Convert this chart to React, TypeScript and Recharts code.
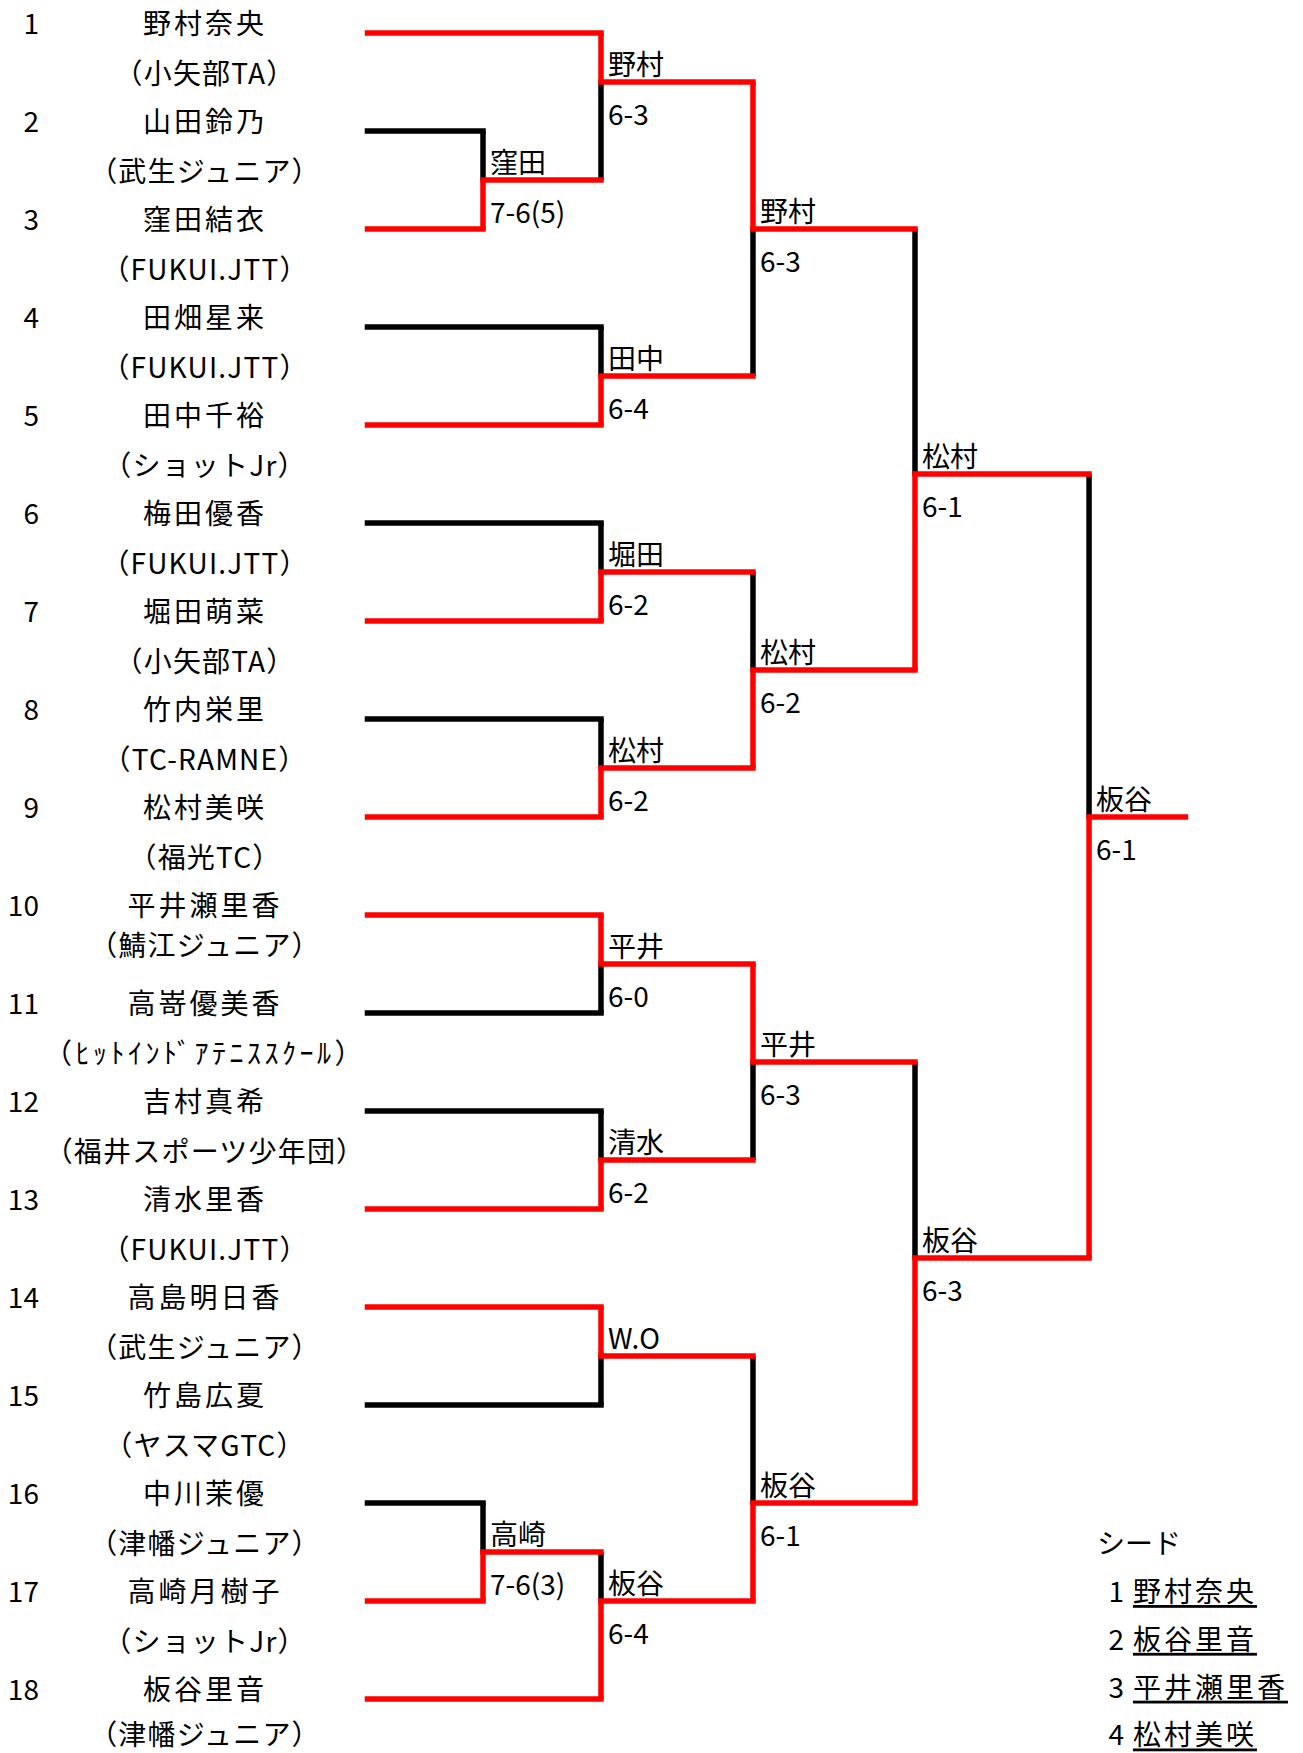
import React from 'react';
import { ScatterChart, Scatter, XAxis, YAxis, ReferenceLine } from 'recharts';

// ---------------- data ----------------
const playerNos = ['1', '2', '3', '4', '5', '6', '7', '8', '9', '10', '11', '12', '13', '14', '15', '16', '17', '18'];
const playerNames = [
  '野村奈央', '山田鈴乃', '窪田結衣', '田畑星来', '田中千裕', '梅田優香', '堀田萌菜', '竹内栄里', '松村美咲',
  '平井瀬里香', '高嵜優美香', '吉村真希', '清水里香', '高島明日香', '竹島広夏', '中川茉優', '高崎月樹子', '板谷里音',
];
const playerClubs = [
  '（小矢部TA）', '（武生ジュニア）', '（FUKUI.JTT）', '（FUKUI.JTT）', '（ショットJr）', '（FUKUI.JTT）',
  '（小矢部TA）', '（TC-RAMNE）', '（福光TC）', '（鯖江ジュニア）', '（ﾋｯﾄｲﾝﾄﾞｱﾃﾆｽｽｸｰﾙ）', '（福井スポーツ少年団）',
  '（FUKUI.JTT）', '（武生ジュニア）', '（ヤスマGTC）', '（津幡ジュニア）', '（ショットJr）', '（津幡ジュニア）',
];

// bracket structure: round of each match, entrant slots, winner slot
const matchRounds = [1, 1, 2, 2, 2, 2, 2, 2, 2, 2, 3, 3, 3, 3, 4, 4, 5];
const matchTopSlots = [2, 16, 1, 4, 6, 8, 10, 12, 14, 16.5, 1.5, 6.5, 10.5, 14.5, 3, 11.5, 5.5];
const matchBottomSlots = [3, 17, 2.5, 5, 7, 9, 11, 13, 15, 18, 4.5, 8.5, 12.5, 17, 7.5, 16, 13.5];
const matchOutSlots = [2.5, 16.5, 1.5, 4.5, 6.5, 8.5, 10.5, 12.5, 14.5, 17, 3, 7.5, 11.5, 16, 5.5, 13.5, 9];
const matchTopWins = [false, false, true, false, false, false, true, false, true, false, true, false, true, false, false, false, false];
const matchWinners = ['窪田', '高崎', '野村', '田中', '堀田', '松村', '平井', '清水', 'W.O', '板谷', '野村', '松村', '平井', '板谷', '松村', '板谷', '板谷'];
const matchScores = ['7-6(5)', '7-6(3)', '6-3', '6-4', '6-2', '6-2', '6-0', '6-2', '', '6-4', '6-3', '6-2', '6-3', '6-1', '6-1', '6-3', '6-1'];

const seedTitle = 'シード';
const seedRanks = ['1', '2', '3', '4'];
const seedNames = ['野村奈央', '板谷里音', '平井瀬里香', '松村美咲'];

// ---------------- layout ----------------
const W = 1303;
const H = 1753;
const RED = '#FF0000';
const BLACK = '#000000';
const LINE_W = 5.5;
const FONT = '"Noto Sans CJK JP", "Noto Sans CJK SC", sans-serif';
const FONT_SIZE = 28;

// column positions in grid units (round columns)
const COLS = [0.021, 1, 2, 3.288, 4.661, 6.136, 6.953];
const X_DOMAIN: [number, number] = [-3.0932, 7.9492];
const Y_DOMAIN: [number, number] = [0.6633, 18.551];

const NO_X = -2.763;
const NAME_X = -1.356;
const NAME_DY = -0.112;
const CLUB_DY = 0.393;
const CLUB_DY_TIGHT = 0.3; // the 鯖江ジュニア row sits closer
const CLUB_DY_LAST = 0.35; // keep the bottom row inside the page
const LABEL_DX = 0.059;
const WIN_DY = -0.194;
const SCORE_DY = 0.316;
const SEED_TITLE_X = 6.203;
const SEED_NO_X = 6.432;
const SEED_NAME_X = 6.508;
const SEED_Y0 = 16.4;
const SEED_STEP = 0.488;

type Seg = { x1: number; y1: number; x2: number; y2: number; color: string; vertical: boolean };

const segments: Seg[] = [];

// player entry lines
playerNos.forEach((_, i) => {
  const slot = i + 1;
  let best = -1;
  matchRounds.forEach((r, m) => {
    if (matchTopSlots[m] === slot || matchBottomSlots[m] === slot) {
      if (best < 0 || r < matchRounds[best]) best = m;
    }
  });
  if (best < 0) return;
  const isTop = matchTopSlots[best] === slot;
  const won = isTop ? matchTopWins[best] : !matchTopWins[best];
  segments.push({ x1: COLS[0], y1: slot, x2: COLS[matchRounds[best]], y2: slot, color: won ? RED : BLACK, vertical: false });
});

// match verticals and winner lines
matchRounds.forEach((r, m) => {
  const cx = COLS[r];
  const topWin = matchTopWins[m];
  segments.push({ x1: cx, y1: matchTopSlots[m], x2: cx, y2: matchOutSlots[m], color: topWin ? RED : BLACK, vertical: true });
  segments.push({ x1: cx, y1: matchOutSlots[m], x2: cx, y2: matchBottomSlots[m], color: topWin ? BLACK : RED, vertical: true });
  segments.push({ x1: cx, y1: matchOutSlots[m], x2: COLS[r + 1], y2: matchOutSlots[m], color: RED, vertical: false });
});

const order = (s: Seg) => (s.vertical ? 0 : 2) + (s.color === RED ? 1 : 0);
const sortedSegments = [...segments].sort((a, b) => order(a) - order(b));

type T = { x: number; y: number; text: string; anchor: string; ls?: number; ul?: boolean };

const texts: T[] = [];
playerNos.forEach((no, i) => {
  const slot = i + 1;
  texts.push({ x: NO_X, y: slot + NAME_DY, text: no, anchor: 'end' });
  texts.push({ x: NAME_X, y: slot + NAME_DY, text: playerNames[i], anchor: 'middle', ls: 3 });
  const dy = i === 9 ? CLUB_DY_TIGHT : i === playerNos.length - 1 ? CLUB_DY_LAST : CLUB_DY;
  const halfWidth = /[\uFF61-\uFF9F]/.test(playerClubs[i]);
  texts.push({ x: NAME_X, y: slot + dy, text: playerClubs[i], anchor: 'middle', ls: halfWidth ? 3.5 : 1.2 });
});
matchRounds.forEach((r, m) => {
  texts.push({ x: COLS[r] + LABEL_DX, y: matchOutSlots[m] + WIN_DY, text: matchWinners[m], anchor: 'start' });
  if (matchScores[m]) texts.push({ x: COLS[r] + LABEL_DX, y: matchOutSlots[m] + SCORE_DY, text: matchScores[m], anchor: 'start' });
});
texts.push({ x: SEED_TITLE_X, y: SEED_Y0, text: seedTitle, anchor: 'start' });
seedRanks.forEach((rk, k) => {
  const y = SEED_Y0 + SEED_STEP * (k + 1);
  texts.push({ x: SEED_NO_X, y, text: rk, anchor: 'end' });
  texts.push({ x: SEED_NAME_X, y, text: seedNames[k], anchor: 'start', ls: 3, ul: true });
});

const TextShape = (props: any) => {
  const { cx, cy, payload } = props;
  if (cx == null || cy == null || !payload) return <g />;
  return (
    <text
      x={cx}
      y={cy}
      textAnchor={payload.anchor}
      dominantBaseline="central"
      fontSize={FONT_SIZE}
      fontFamily={FONT}
      letterSpacing={payload.ls || 0}
      textDecoration={payload.ul ? 'underline' : undefined}
      fill="#000"
    >
      {payload.text}
    </text>
  );
};

export default function App() {
  return (
    <div style={{ position: 'absolute', left: 0, top: 0, width: W, height: H, background: '#fff' }}>
      <ScatterChart width={W} height={H} margin={{ top: 0, right: 0, bottom: 0, left: 0 }}>
        <XAxis type="number" dataKey="x" domain={X_DOMAIN} allowDataOverflow hide />
        <YAxis type="number" dataKey="y" domain={Y_DOMAIN} allowDataOverflow reversed hide />
        {sortedSegments.map((s, i) => (
          <ReferenceLine
            key={`seg-${i}`}
            segment={[{ x: s.x1, y: s.y1 }, { x: s.x2, y: s.y2 }]}
            stroke={s.color}
            strokeWidth={LINE_W}
            strokeLinecap={s.vertical ? 'butt' : 'square'}
            ifOverflow="visible"
          />
        ))}
        <Scatter data={texts} shape={TextShape} isAnimationActive={false} />
      </ScatterChart>
    </div>
  );
}
